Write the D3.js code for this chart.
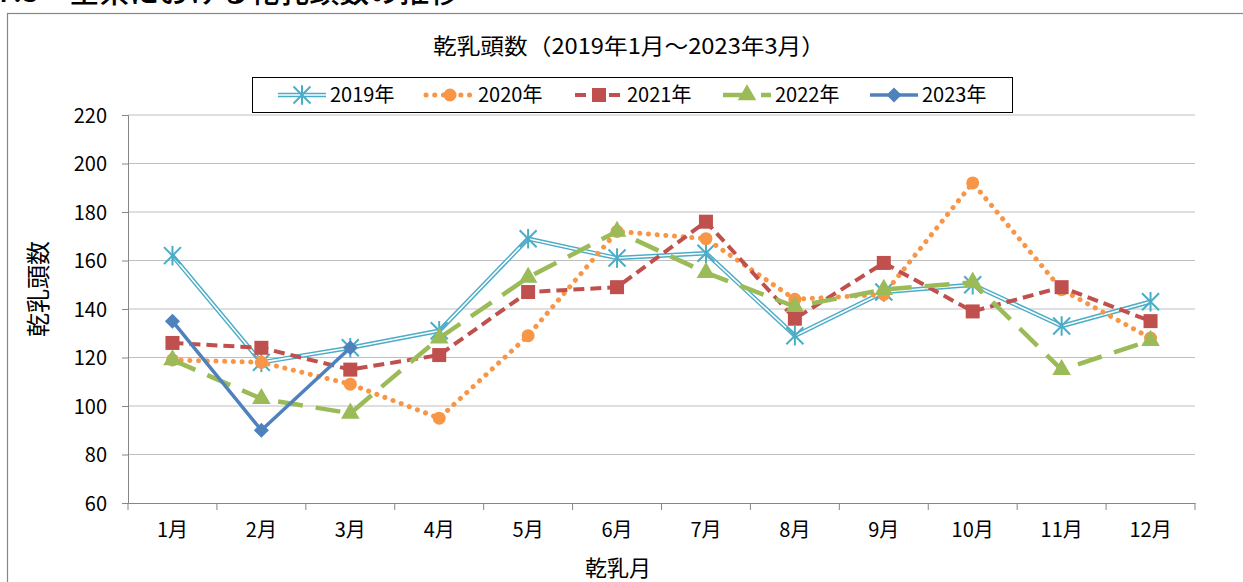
<!DOCTYPE html>
<html>
<head>
<meta charset="utf-8">
<script src="https://cdn.jsdelivr.net/npm/d3@7"></script>
<style>
  html, body { margin: 0; padding: 0; background: #fff; overflow: hidden; }
  svg text { font-family: "Noto Sans CJK JP", "Noto Sans", sans-serif; fill: #000; }
</style>
</head>
<body>
<div id="chart"></div>
<script>
// Chart data
const months = ['1月', '2月', '3月', '4月', '5月', '6月', '7月', '8月', '9月', '10月', '11月', '12月'];
const yTicks = [60, 80, 100, 120, 140, 160, 180, 200, 220];
const seriesNames = ['2019年', '2020年', '2021年', '2022年', '2023年'];
const values2019 = [162, 118, 124, 131, 169, 161, 163, 129, 147, 150, 133, 143];
const values2020 = [119, 118, 109, 95, 129, 172, 169, 144, 146, 192, 148, 128];
const values2021 = [126, 124, 115, 121, 147, 149, 176, 136, 159, 139, 149, 135];
const values2022 = [119, 103, 97, 128, 153, 172, 155, 141, 148, 151, 115, 127];
const values2023 = [135, 90, 124];

const W = 1243, H = 582;
const plot = { left: 128, right: 1195, top: 115, bottom: 503 };

const svg = d3.select('#chart').append('svg')
  .attr('width', W)
  .attr('height', H);

// Heading above the chart (the page cuts it off at the top)
svg.append('text')
  .attr('x', -4)
  .attr('y', 2)
  .attr('font-size', 30)
  .attr('font-weight', 500)
  .text('7.3　全県における乾乳頭数の推移');

// Chart frame
svg.append('rect')
  .attr('x', 7.5).attr('y', 13.5)
  .attr('width', W + 10).attr('height', H + 10)
  .attr('fill', '#fff')
  .attr('stroke', '#868686')
  .attr('stroke-width', 1.2);

// Scales
const x = d3.scaleBand().domain(months).range([plot.left, plot.right]);
const y = d3.scaleLinear().domain([60, 220]).range([plot.bottom, plot.top]);
const cx = m => x(m) + x.bandwidth() / 2;

// Gridlines
svg.append('g')
  .selectAll('line')
  .data(yTicks.filter(t => t > 60))
  .enter().append('line')
  .attr('x1', plot.left).attr('x2', plot.right)
  .attr('y1', d => y(d)).attr('y2', d => y(d))
  .attr('stroke', '#bfbfbf')
  .attr('stroke-width', 1);

// Y axis
const yAxis = svg.append('g')
  .attr('transform', `translate(${plot.left},0)`)
  .call(d3.axisLeft(y).tickValues(yTicks).tickSize(6).tickPadding(15));
yAxis.select('.domain').attr('stroke', '#868686');
yAxis.selectAll('.tick line').attr('stroke', '#868686');
yAxis.selectAll('.tick text')
  .attr('font-size', 20)
  .attr('dy', '0.35em');

// X axis
const xAxis = svg.append('g')
  .attr('transform', `translate(0,${plot.bottom})`)
  .call(d3.axisBottom(x).tickSize(0).tickPadding(20));
xAxis.select('.domain').attr('stroke', '#868686');
xAxis.selectAll('.tick text').attr('font-size', 20);
// tick marks sit on the band boundaries
svg.append('g')
  .selectAll('line')
  .data(months.map(m => x(m)).concat([x(months[months.length - 1]) + x.bandwidth()]))
  .enter().append('line')
  .attr('x1', d => d).attr('x2', d => d)
  .attr('y1', plot.bottom).attr('y2', plot.bottom + 7)
  .attr('stroke', '#868686');

// Titles
svg.append('text')
  .attr('x', 629).attr('y', 54)
  .attr('text-anchor', 'middle')
  .attr('font-size', 22)
  .attr('textLength', 392)
  .attr('lengthAdjust', 'spacingAndGlyphs')
  .text('乾乳頭数（2019年1月～2023年3月）');

svg.append('text')
  .attr('transform', `translate(47,289) rotate(-90)`)
  .attr('text-anchor', 'middle')
  .attr('font-size', 24)
  .text('乾乳頭数');

svg.append('text')
  .attr('x', 618).attr('y', 576)
  .attr('text-anchor', 'middle')
  .attr('font-size', 22)
  .text('乾乳月');

// Marker shapes
const markerDraw = {
  asterisk: (g, c) => {
    const r = 8.5;
    [[-r, -r, r, r], [-r, r, r, -r], [0, -r * 1.15, 0, r * 1.15]].forEach(s => {
      g.append('line')
        .attr('x1', s[0]).attr('y1', s[1]).attr('x2', s[2]).attr('y2', s[3])
        .attr('stroke', c).attr('stroke-width', 2);
    });
  },
  circle: (g, c) => g.append('circle').attr('r', 6.5).attr('fill', c),
  square: (g, c) => g.append('rect').attr('x', -7).attr('y', -7)
    .attr('width', 14).attr('height', 14).attr('fill', c),
  triangle: (g, c) => g.append('path')
    .attr('d', d3.symbol().type(d3.symbolTriangle).size(150)()).attr('fill', c),
  diamond: (g, c) => g.append('path')
    .attr('d', 'M0,-7.5L7.5,0L0,7.5L-7.5,0Z').attr('fill', c)
};

const series = [
  { name: seriesNames[0], values: values2019, color: '#4BACC6', width: 4.5, dash: null, double: true, marker: 'asterisk' },
  { name: seriesNames[1], values: values2020, color: '#F79646', width: 5, dash: '0.1,8.6', cap: 'round', marker: 'circle' },
  { name: seriesNames[2], values: values2021, color: '#C0504D', width: 4, dash: '11,6', marker: 'square' },
  { name: seriesNames[3], values: values2022, color: '#9BBB59', width: 4.5, dash: '25,13', marker: 'triangle' },
  { name: seriesNames[4], values: values2023, color: '#4F81BD', width: 3.5, dash: null, marker: 'diamond' }
];

const line = d3.line()
  .x((d, i) => cx(months[i]))
  .y(d => y(d));

const drawStroke = (g, s, d) => {
  const p = g.append('path')
    .attr('d', d)
    .attr('fill', 'none')
    .attr('stroke', s.color)
    .attr('stroke-width', s.width)
    .attr('stroke-linejoin', 'round')
    .attr('stroke-linecap', s.cap || 'butt');
  if (s.dash) p.attr('stroke-dasharray', s.dash);
  if (s.double) {
    g.append('path')
      .attr('d', d)
      .attr('fill', 'none')
      .attr('stroke', '#fff')
      .attr('stroke-width', 1.6)
      .attr('stroke-linejoin', 'round');
  }
};

const seriesGroup = svg.append('g');
series.forEach(s => {
  const g = seriesGroup.append('g');
  drawStroke(g, s, line(s.values));
  s.values.forEach((v, i) => {
    const mg = g.append('g').attr('transform', `translate(${cx(months[i])},${y(v)})`);
    markerDraw[s.marker](mg, s.color);
  });
});

// Legend
const legend = svg.append('g');
legend.append('rect')
  .attr('x', 252.5).attr('y', 77.5)
  .attr('width', 760).attr('height', 35)
  .attr('fill', '#fff')
  .attr('stroke', '#000')
  .attr('stroke-width', 1);

const legendX = [278, 426, 575, 723, 870];
series.forEach((s, i) => {
  const g = legend.append('g').attr('transform', `translate(${legendX[i]},95)`);
  drawStroke(g, s, 'M0,0L48,0');
  const mg = g.append('g').attr('transform', 'translate(24,0)');
  markerDraw[s.marker](mg, s.color);
  g.append('text')
    .attr('x', 52).attr('y', 0)
    .attr('dy', '0.35em')
    .attr('font-size', 20)
    .text(s.name);
});
</script>
</body>
</html>
